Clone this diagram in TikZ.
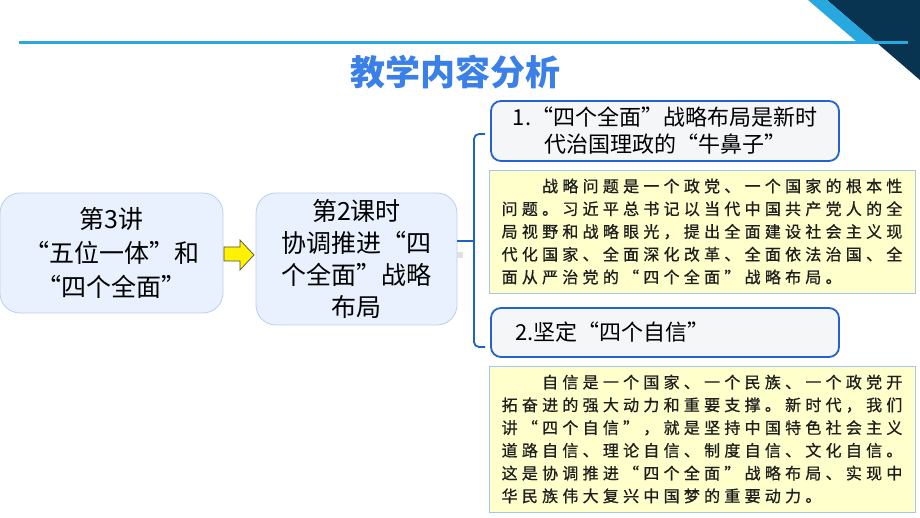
\documentclass[tikz,border=0pt]{standalone}
\usepackage{fontspec}
\setmainfont{Noto Sans CJK SC}
\newfontfamily\parafont[FakeBold=0.8]{Noto Sans CJK SC}
\definecolor{titleblue}{RGB}{58,128,232}
\definecolor{navy}{RGB}{8,52,82}
\definecolor{skyblue}{RGB}{41,168,224}
\definecolor{boxfill}{RGB}{232,241,253}
\definecolor{boxedge}{RGB}{184,208,240}
\definecolor{headedge}{RGB}{36,98,208}
\definecolor{headfill}{RGB}{245,246,248}
\definecolor{notefill}{RGB}{255,255,204}
\definecolor{noteedge}{RGB}{165,198,238}
\definecolor{linkblue}{RGB}{30,96,206}
\definecolor{paratext}{RGB}{30,30,30}
\makeatletter
\def\cj#1{\cj@loop#1\relax}
\def\cj@loop#1{\ifx#1\relax\else\makebox[20.25pt][c]{#1}\expandafter\cj@loop\fi}
\makeatother
\tikzset{
  mainbox/.style={draw=boxedge, line width=0.8pt, fill=boxfill, rounded corners=20pt,
    align=center, inner sep=0pt, text=black},
  headbox/.style={draw=headedge, line width=1.8pt, fill=headfill, rounded corners=10pt,
    inner sep=0pt, text=black, font=\fontsize{22}{27}\selectfont},
  notebox/.style={draw=noteedge, line width=0.8pt, fill=notefill, inner xsep=10.5pt,
    inner ysep=0pt, text width=405pt, align=left, text=paratext,
    font=\parafont\fontsize{16}{22.75}\selectfont},
  link/.style={draw=linkblue, line width=1.8pt, rounded corners=5pt},
  blockarrow/.style={draw=black!70, line width=0.7pt, fill=yellow},
}
\begin{document}
\begin{tikzpicture}[x=1pt,y=-1pt]
\useasboundingbox (0,0) rectangle (920,518);
\fill[white] (0,0) rectangle (920,518);
% top decoration
\fill[navy] (827,0) -- (920,0) -- (920,80) -- cycle;
\fill[skyblue] (808,0) -- (827,0) -- (876,42) -- (857,42) -- cycle;
\draw[skyblue, line width=3.5pt] (19,42.5) -- (908,42.5);
% title
\node[text=titleblue, font=\fontsize{35}{40}\selectfont\bfseries] (title) at (455,72) {教学内容分析};
% left boxes
\node[mainbox, minimum width=223pt, minimum height=120pt, font=\fontsize{25}{34}\selectfont] (lec) at (111.5,253) {第3讲\\“五位一体”和\\“四个全面”};
\node[mainbox, minimum width=201pt, minimum height=132pt, font=\fontsize{25}{32}\selectfont] (mid) at (356.5,259) {第2课时\\协调推进“四\\个全面”战略\\布局};
% block arrow between the two boxes
\coordinate (atail) at (224,254);
\coordinate (atip) at (254,255);
\draw[blockarrow] (atail) ++(0,-7) -- (240,247) -- (240,240) -- (atip) -- (240,270) -- (240,261) -- (224,261) -- cycle;
\fill[black!12] (457,252) rectangle (463,258);
% right side
\node[headbox, minimum width=348pt, minimum height=60pt, align=center] (h1) at (665,131) {1.“四个全面”战略布局是新时\\代治国理政的“牛鼻子”};
\node[headbox, minimum width=348pt, minimum height=49pt, text width=300pt, inner xsep=24pt, align=left] (h2) at (665,332.5) {2.坚定“四个自信”};
\node[notebox, minimum height=123pt] (n1) at (702,231.5) {%
\hspace*{40.5pt}\cj{战略问题是一个政党、一个国家的根本性}\\
\cj{问题。习近平总书记以当代中国共产党人的全}\\
\cj{局视野和战略眼光，提出全面建设社会主义现}\\
\cj{代化国家、全面深化改革、全面依法治国、全}\\
\cj{面从严治党的“四个全面”战略布局。}};
\node[notebox, minimum height=146pt] (n2) at (702,439) {%
\hspace*{40.5pt}\cj{自信是一个国家、一个民族、一个政党开}\\
\cj{拓奋进的强大动力和重要支撑。新时代，我们}\\
\cj{讲“四个自信”，就是坚持中国特色社会主义}\\
\cj{道路自信、理论自信、制度自信、文化自信。}\\
\cj{这是协调推进“四个全面”战略布局、实现中}\\
\cj{华民族伟大复兴中国梦的重要动力。}};
% connectors
\coordinate (j) at (474,241);
\coordinate (t1) at (485,134);
\coordinate (t2) at (485,347);
\draw[link, rounded corners=0pt] (mid.east |- j) -- (j);
\draw[link] (t1) -- (t1 -| j) -- (t2 -| j) -- (t2);
\end{tikzpicture}
\end{document}
